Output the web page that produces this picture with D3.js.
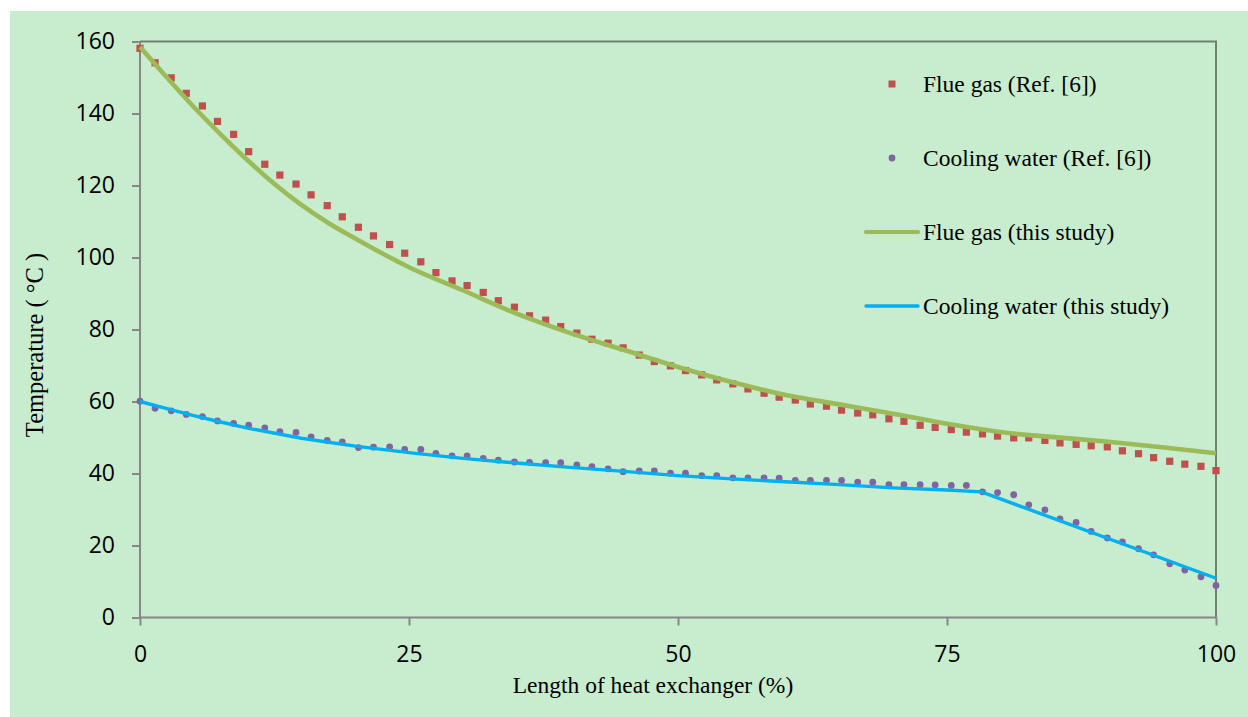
<!DOCTYPE html>
<html>
<head>
<meta charset="utf-8">
<script src="https://cdn.jsdelivr.net/npm/d3@7"></script>
<style>
  html, body { margin: 0; padding: 0; background: #ffffff; }
  svg { display: block; }
  .serif { font-family: "Liberation Serif", "Times New Roman", Times, "DejaVu Serif", serif; }
  .tick text { font-family: "Open Sans", "Noto Sans", sans-serif; }
</style>
</head>
<body>
<svg id="chart" width="1248" height="717"></svg>
<script>
// ---------------- data ----------------
const xTicks = [0, 25, 50, 75, 100];
const yTicks = [0, 20, 40, 60, 80, 100, 120, 140, 160];

// measured positions (% of heat exchanger length) of the reference points
const refX = [0, 1.4, 2.9, 4.3, 5.8, 7.2, 8.7, 10.1, 11.6, 13.0,
  14.5, 15.9, 17.4, 18.8, 20.3, 21.7, 23.2, 24.6, 26.1, 27.5,
  29.0, 30.4, 31.9, 33.3, 34.8, 36.2, 37.7, 39.1, 40.6, 42.0,
  43.5, 44.9, 46.4, 47.8, 49.3, 50.7, 52.2, 53.6, 55.1, 56.5,
  58.0, 59.4, 60.9, 62.3, 63.8, 65.2, 66.7, 68.1, 69.6, 71.0,
  72.5, 73.9, 75.4, 76.8, 78.3, 79.7, 81.2, 82.6, 84.1, 85.5,
  87.0, 88.4, 89.9, 91.3, 92.8, 94.2, 95.7, 97.1, 98.6, 100];

const flueGasRef = [158.1, 154.1, 149.9, 145.6, 142.1, 137.8, 134.2, 129.4, 125.9, 122.9,
  120.4, 117.4, 114.4, 111.3, 108.4, 106.0, 103.6, 101.2, 98.8, 95.8,
  93.5, 92.2, 90.3, 88.0, 86.2, 83.8, 82.6, 80.8, 79.0, 77.3,
  76.2, 74.9, 72.9, 71.1, 69.9, 68.6, 67.4, 66.0, 64.9, 63.5,
  62.3, 61.2, 60.4, 59.3, 58.7, 57.6, 56.8, 56.3, 55.2, 54.5,
  53.4, 52.8, 52.2, 51.5, 51.0, 50.4, 49.9, 49.9, 49.2, 48.5,
  48.1, 47.7, 47.4, 46.3, 45.5, 44.4, 43.4, 42.6, 42.0, 40.8];

const coolingWaterRef = [60.1, 58.1, 57.4, 56.4, 55.8, 54.6, 53.9, 53.4, 52.7, 51.6,
  51.4, 50.2, 49.2, 48.8, 47.2, 47.3, 47.4, 46.7, 46.7, 45.6,
  44.9, 44.9, 44.2, 43.7, 43.2, 43.1, 43.0, 43.0, 42.4, 41.9,
  41.3, 40.5, 40.7, 40.7, 40.1, 40.1, 39.4, 39.4, 38.8, 38.8,
  38.8, 38.7, 38.1, 38.1, 38.1, 38.1, 37.6, 37.6, 36.9, 36.9,
  36.9, 36.8, 36.7, 36.7, 34.9, 34.7, 34.1, 31.3, 29.9, 27.4,
  26.4, 23.9, 22.1, 21.0, 19.1, 17.4, 14.9, 13.2, 11.3, 8.9];

const flueStudyX = [0, 2.5, 5, 7.5, 10, 12.5, 15, 17.5, 20, 25, 30, 35, 40, 45, 50, 55, 60, 65, 70, 75, 80.5, 85, 90, 95, 100];
const flueStudyY = [158.5, 150.0, 141.8, 134.2, 127.0, 120.4, 114.6, 109.6, 105.3, 97.3, 90.9, 84.4, 79.0, 74.3, 69.6, 65.4, 61.8, 59.2, 56.6, 53.8, 51.3, 50.1, 48.8, 47.3, 45.6];

const coolStudyX = [0, 2.5, 5, 7.5, 10, 15, 20, 25, 30, 35, 40, 45, 50, 55, 60, 65, 70, 75, 78.2, 100];
const coolStudyY = [60.0, 58.0, 56.1, 54.3, 52.6, 49.8, 47.6, 45.8, 44.2, 42.9, 41.7, 40.6, 39.4, 38.5, 37.7, 36.9, 36.0, 35.4, 34.9, 10.9];

const legendLabels = ["Flue gas (Ref. [6])", "Cooling water (Ref. [6])", "Flue gas (this study)", "Cooling water (this study)"];
const xTitle = "Length of heat exchanger (%)";
const yTitle = "Temperature ( °C )";

// ---------------- styles ----------------
const C = {
  bg: "#c8ecce",
  square: "#c0504d",
  circle: "#8064a2",
  green: "#9bbb59",
  blue: "#00b0f0",
  axis: "#878787",
  frame: "#6f806f"
};

const svg = d3.select("#chart");
svg.append("rect").attr("x", 10).attr("y", 11).attr("width", 1238).attr("height", 706).attr("fill", C.bg);

const x = d3.scaleLinear().domain([0, 100]).range([140, 1216]);
const y = d3.scaleLinear().domain([0, 160]).range([617.5, 41.5]);

// frame (top & right)
svg.append("path")
  .attr("d", `M${x(0)},${y(160)}H${x(100)}V${y(0)}`)
  .attr("fill", "none").attr("stroke", C.frame).attr("stroke-width", 2);

// axes
const yAxis = svg.append("g").attr("transform", `translate(${x(0)},0)`)
  .call(d3.axisLeft(y).tickValues(yTicks).tickSize(8).tickPadding(17));
const xAxis = svg.append("g").attr("transform", `translate(0,${y(0)})`)
  .call(d3.axisBottom(x).tickValues(xTicks).tickSize(8).tickPadding(20));
[xAxis, yAxis].forEach(g => {
  g.attr("font-family", null).attr("font-size", null);
  g.select(".domain").attr("stroke", C.axis).attr("stroke-width", 2);
  g.selectAll(".tick line").attr("stroke", C.axis).attr("stroke-width", 2);
  g.selectAll(".tick text").attr("fill", "#000").style("font-size", "23px");
});
xAxis.select(".domain").attr("d", `M${x(0)},0H${x(100)}`);
yAxis.select(".domain").attr("d", `M0,${y(0)}V${y(160)}`);

// reference points
svg.append("g").selectAll("rect").data(refX.map((v, i) => [v, flueGasRef[i]])).join("rect")
  .attr("x", d => x(d[0]) - 3.6).attr("y", d => y(d[1]) - 3.6)
  .attr("width", 7.2).attr("height", 7.2).attr("fill", C.square);
svg.append("g").selectAll("circle").data(refX.map((v, i) => [v, coolingWaterRef[i]])).join("circle")
  .attr("cx", d => x(d[0])).attr("cy", d => y(d[1])).attr("r", 3.4).attr("fill", C.circle);

// study lines
const line = d3.line().x(d => x(d[0])).y(d => y(d[1])).curve(d3.curveMonotoneX);
svg.append("path").datum(flueStudyX.map((v, i) => [v, flueStudyY[i]]))
  .attr("d", line).attr("fill", "none").attr("stroke", C.green).attr("stroke-width", 4.6).attr("stroke-linejoin", "round");
svg.append("path").datum(coolStudyX.map((v, i) => [v, coolStudyY[i]]))
  .attr("d", d3.line().x(d => x(d[0])).y(d => y(d[1]))).attr("fill", "none").attr("stroke", C.blue).attr("stroke-width", 3.4).attr("stroke-linejoin", "round");

// axis titles
svg.append("text").attr("class", "serif").attr("x", 653).attr("y", 693).attr("text-anchor", "middle")
  .style("font-size", "23.5px").attr("fill", "#000").text(xTitle);
svg.append("text").attr("class", "serif").attr("transform", "translate(43,345) rotate(-90)").attr("text-anchor", "middle")
  .style("font-size", "24.5px").attr("fill", "#000").text(yTitle);

// legend
const lg = svg.append("g");
const legendY = [92, 166, 240, 314];
lg.append("rect").attr("x", 888.5).attr("y", 80.5).attr("width", 7).attr("height", 7).attr("fill", C.square);
lg.append("circle").attr("cx", 892).attr("cy", 158).attr("r", 3.4).attr("fill", C.circle);
lg.append("line").attr("x1", 866).attr("x2", 918).attr("y1", 232).attr("y2", 232)
  .attr("stroke", C.green).attr("stroke-width", 4.2).attr("stroke-linecap", "round");
lg.append("line").attr("x1", 866).attr("x2", 918).attr("y1", 306).attr("y2", 306)
  .attr("stroke", C.blue).attr("stroke-width", 3.4).attr("stroke-linecap", "round");
lg.selectAll("text").data(legendLabels).join("text").attr("class", "serif")
  .attr("x", 923).attr("y", (d, i) => legendY[i])
  .style("font-size", "23.5px").attr("fill", "#000").text(d => d);
</script>
</body>
</html>
